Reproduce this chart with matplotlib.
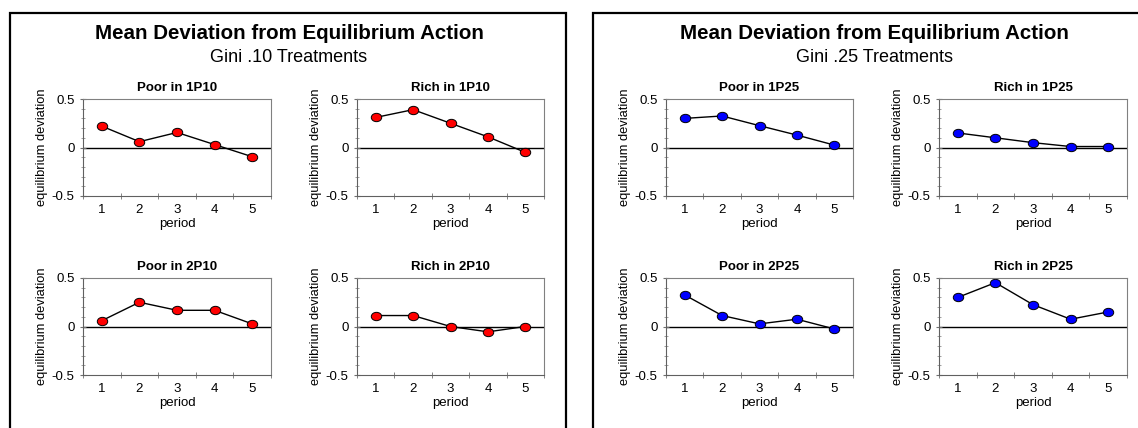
import matplotlib
matplotlib.use("Agg")
import matplotlib.pyplot as plt
from matplotlib.patches import Rectangle
from matplotlib.path import Path
from matplotlib.transforms import Affine2D
from matplotlib.ticker import MultipleLocator, FixedLocator

plt.rcParams['font.family'] = ['Liberation Sans', 'DejaVu Sans']

periods = [1, 2, 3, 4, 5]

# Gini .10 treatments
poor_1p10 = [0.22, 0.06, 0.155, 0.03, -0.095]
rich_1p10 = [0.31, 0.39, 0.25, 0.11, -0.05]
poor_2p10 = [0.06, 0.25, 0.167, 0.167, 0.027]
rich_2p10 = [0.113, 0.113, 0.0, -0.055, 0.0]

# Gini .25 treatments
poor_1p25 = [0.30, 0.325, 0.225, 0.128, 0.025]
rich_1p25 = [0.15, 0.10, 0.05, 0.01, 0.01]
poor_2p25 = [0.325, 0.113, 0.027, 0.075, -0.025]
rich_2p25 = [0.30, 0.452, 0.225, 0.075, 0.15]

W, H = 1138, 428
fig = plt.figure(figsize=(W / 100, H / 100), dpi=100)
fig.patch.set_facecolor('white')

# slightly wide oval marker like the spreadsheet original
oval = Path.unit_circle().transformed(Affine2D().scale(1.25, 1.0))


def px_axes(x0, y0, x1, y1):
    return fig.add_axes([x0 / W, 1 - y1 / H, (x1 - x0) / W, (y1 - y0) / H])


def small_plot(ax, values, title, color):
    ax.axhline(0, color='black', lw=1.0, zorder=1)
    ax.plot(periods, values, color='black', lw=1.0, zorder=2,
            marker=oval, markersize=7.5, markerfacecolor=color,
            markeredgecolor='black', markeredgewidth=0.7)
    ax.set_xlim(0.5, 5.5)
    ax.set_ylim(-0.5, 0.5)
    ax.set_yticks([-0.5, 0, 0.5])
    ax.set_yticklabels(['-0.5', '0', '0.5'])
    ax.yaxis.set_minor_locator(MultipleLocator(0.1))
    ax.set_xticks(periods)
    ax.xaxis.set_minor_locator(FixedLocator([0.5, 1.5, 2.5, 3.5, 4.5, 5.5]))
    ax.tick_params(axis='x', which='major', length=0, labelsize=9.5, pad=6)
    ax.tick_params(axis='x', which='minor', length=4, direction='inout',
                   color='#707070')
    ax.tick_params(axis='y', which='major', length=4, direction='inout',
                   labelsize=9.5, pad=4, color='#707070')
    ax.tick_params(axis='y', which='minor', length=3, direction='inout',
                   color='#909090')
    for side in ['left', 'bottom']:
        ax.spines[side].set_color('#606060')
    for side in ['top', 'right']:
        ax.spines[side].set_color('#808080')
    ax.set_title(title, fontsize=9.5, fontweight='bold', pad=6)
    ax.set_xlabel('period', fontsize=9.5, labelpad=1)
    ax.set_ylabel('equilibrium deviation', fontsize=9.3, labelpad=3)


cols_left = [(83, 271), (357, 544)]
cols_right = [(666, 853), (939, 1127)]
rows = [(99, 196), (278, 375)]

panels = [
    (cols_left, [[poor_1p10, rich_1p10], [poor_2p10, rich_2p10]],
     [['Poor in 1P10', 'Rich in 1P10'], ['Poor in 2P10', 'Rich in 2P10']],
     '#ff0000'),
    (cols_right, [[poor_1p25, rich_1p25], [poor_2p25, rich_2p25]],
     [['Poor in 1P25', 'Rich in 1P25'], ['Poor in 2P25', 'Rich in 2P25']],
     '#0000ff'),
]

for cols, data, titles, color in panels:
    for r, (y0, y1) in enumerate(rows):
        for c, (x0, x1) in enumerate(cols):
            ax = px_axes(x0, y0, x1, y1)
            small_plot(ax, data[r][c], titles[r][c], color)

# outer frames
fig.add_artist(Rectangle((10 / W, -0.1), 556 / W, 1.1 - 13 / H,
                         transform=fig.transFigure, fill=False,
                         edgecolor='black', lw=1.6))
fig.add_artist(Rectangle((593 / W, -0.1), 600 / W, 1.1 - 13 / H,
                         transform=fig.transFigure, fill=False,
                         edgecolor='black', lw=1.6))

# headings
for cx, sub in [(289, 'Gini .10 Treatments'), (874, 'Gini .25 Treatments')]:
    fig.text(cx / W, 1 - 33.5 / H, 'Mean Deviation from Equilibrium Action',
             ha='center', va='center', fontsize=14.8, fontweight='bold')
    fig.text(cx / W, 1 - 58 / H, sub, ha='center', va='center', fontsize=13)

fig.savefig('out.png', dpi=100)
